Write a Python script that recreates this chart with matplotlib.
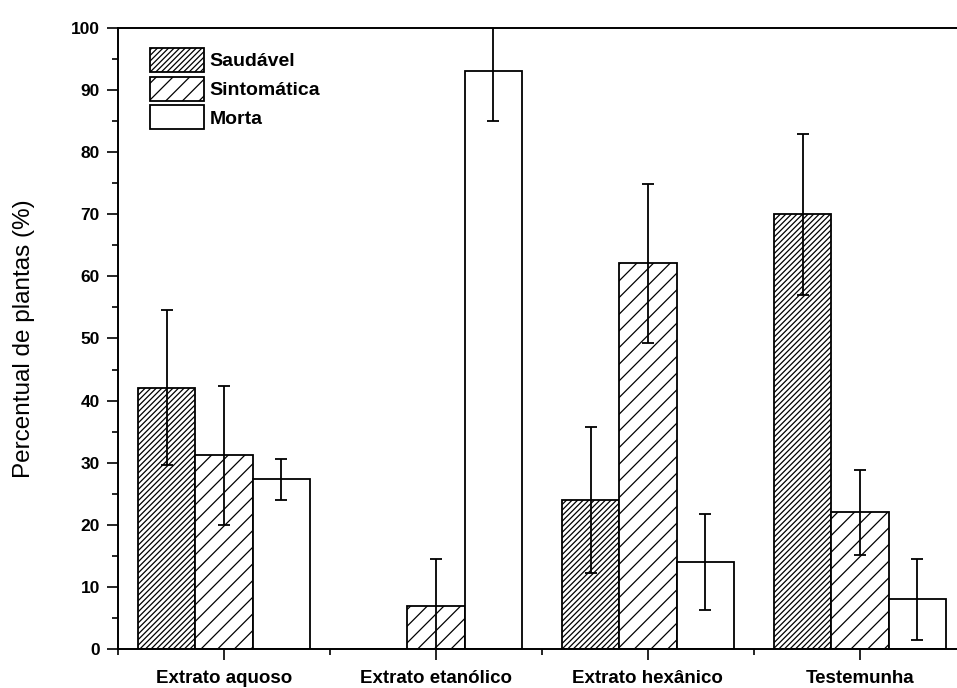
import matplotlib
matplotlib.use('Agg')
import matplotlib.pyplot as plt
import numpy as np

matplotlib.rcParams['hatch.linewidth'] = 0.9
plt.rc('font', family='Liberation Sans')

groups = ['Extrato aquoso', 'Extrato etanólico', 'Extrato hexânico', 'Testemunha']
series = ['Saudável', 'Sintomática', 'Morta']

saudavel = [42.1, 0.0, 24.0, 70.0]
saudavel_err = [12.5, 0.0, 11.7, 13.0]
sintomatica = [31.2, 7.0, 62.1, 22.0]
sintomatica_err = [11.2, 7.5, 12.8, 6.9]
morta = [27.3, 93.0, 14.0, 8.0]
morta_err = [3.3, 8.0, 7.8, 6.5]

fig = plt.figure(figsize=(9.57, 6.88), dpi=100)
ax = fig.add_axes([0.1233, 0.0567, 0.886, 0.9026])

x = np.arange(len(groups))
width = 0.27
ekw = dict(elinewidth=1.3, capthick=1.3, ecolor='black')

b1 = ax.bar(x - width, saudavel, width, color='white', edgecolor='black',
            hatch='//////', linewidth=1.3, label=series[0])
b2 = ax.bar(x, sintomatica, width, color='white', edgecolor='black',
            hatch='//', linewidth=1.3, label=series[1])
b3 = ax.bar(x + width, morta, width, color='white', edgecolor='black',
            linewidth=1.3, label=series[2])

# no error bar for the zero bar
ax.errorbar([x[0] - width, x[2] - width, x[3] - width],
            [saudavel[0], saudavel[2], saudavel[3]],
            yerr=[saudavel_err[0], saudavel_err[2], saudavel_err[3]],
            fmt='none', capsize=4.5, **ekw)
ax.errorbar(x, sintomatica, yerr=sintomatica_err, fmt='none', capsize=4.5, **ekw)
ax.errorbar(x + width, morta, yerr=morta_err, fmt='none', capsize=4.5, **ekw)

ax.set_xlim(-0.5, 3.5)
ax.set_ylim(0, 100)
ax.set_yticks(np.arange(0, 101, 10))
ax.set_yticks(np.arange(5, 100, 10), minor=True)
ax.set_xticks(x)
ax.set_xticks(np.arange(-0.5, 3.6, 1.0), minor=True)
ax.set_xticklabels(groups, fontsize=13.5, fontweight='bold')
for lab in ax.get_yticklabels():
    lab.set_fontsize(12.5)
    lab.set_fontweight('bold')

ax.tick_params(which='major', direction='out', length=8, width=1.2, pad=5)
ax.tick_params(which='minor', direction='out', length=4.5, width=1.2)
ax.tick_params(axis='x', which='major', pad=7)

for s in ['left', 'bottom', 'top']:
    ax.spines[s].set_linewidth(1.4)
ax.spines['right'].set_visible(False)

ax.set_ylabel('Percentual de plantas (%)', fontsize=17.5, labelpad=26)

ax.legend(loc='upper left', bbox_to_anchor=(0.028, 0.98), frameon=False,
          prop={'size': 14, 'weight': 'bold'}, handlelength=2.8,
          handleheight=1.5, labelspacing=0.25, handletextpad=0.3,
          borderaxespad=0.0)

fig.savefig('out.png', dpi=100)
